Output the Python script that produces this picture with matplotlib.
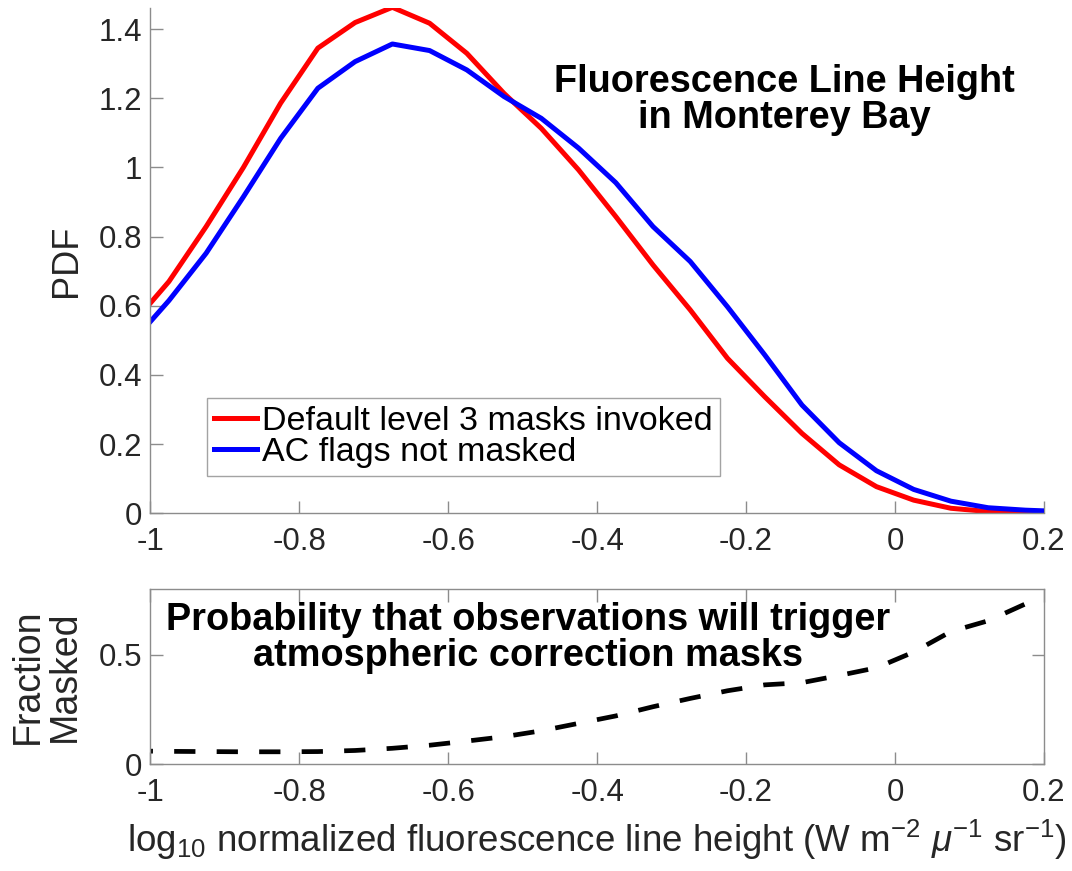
import numpy as np
import matplotlib
matplotlib.use("Agg")
import matplotlib.pyplot as plt

plt.rcParams['font.family'] = ['Liberation Sans', 'DejaVu Sans']
plt.rcParams['mathtext.fontset'] = 'custom'
plt.rcParams['mathtext.rm'] = 'Liberation Sans'
plt.rcParams['mathtext.it'] = 'Liberation Sans:italic'
plt.rcParams['axes.unicode_minus'] = False

# bin centres of log10 nFLH (last/first lie outside the axes and get clipped)
flh = [-1.025, -0.975, -0.925, -0.875, -0.825, -0.775, -0.725, -0.675, -0.625,
       -0.575, -0.525, -0.475, -0.425, -0.375, -0.325, -0.275, -0.225, -0.175,
       -0.125, -0.075, -0.025, 0.025, 0.075, 0.125, 0.175, 0.225]

pdf_masked = [0.545, 0.670, 0.829, 1.000, 1.186, 1.345, 1.419, 1.463, 1.417,
              1.330, 1.214, 1.113, 0.993, 0.858, 0.718, 0.588, 0.448, 0.337,
              0.231, 0.140, 0.077, 0.038, 0.0145, 0.005, 0.0015, 0.0005]

pdf_noflag = [0.493, 0.615, 0.752, 0.915, 1.084, 1.229, 1.306, 1.357, 1.338,
              1.282, 1.205, 1.142, 1.056, 0.956, 0.829, 0.728, 0.597, 0.458,
              0.313, 0.204, 0.123, 0.069, 0.035, 0.016, 0.009, 0.005]

frac_masked = [0.060, 0.058, 0.057, 0.056, 0.056, 0.057, 0.062, 0.072, 0.086,
               0.105, 0.125, 0.152, 0.186, 0.220, 0.262, 0.300, 0.335, 0.362,
               0.372, 0.405, 0.440, 0.512, 0.606, 0.655, 0.732, 0.770]

xticks = [-1, -0.8, -0.6, -0.4, -0.2, 0, 0.2]
xticklabels = ["-1", "-0.8", "-0.6", "-0.4", "-0.2", "0", "0.2"]
yticks_pdf = [0, 0.2, 0.4, 0.6, 0.8, 1, 1.2, 1.4]
yticklabels_pdf = ["0", "0.2", "0.4", "0.6", "0.8", "1", "1.2", "1.4"]
yticks_frac = [0, 0.5]
yticklabels_frac = ["0", "0.5"]

spine_col = "#8c8c8c"
txt_col = "#262626"

fig = plt.figure(figsize=(10.72, 8.71), dpi=100)
ax1 = fig.add_axes([0.1402, 0.4107, 0.8337, 0.5801])
ax2 = fig.add_axes([0.1402, 0.1228, 0.8337, 0.2009])

ax1.plot(flh, pdf_masked, color="#ff0000", lw=3.6, label="Default level 3 masks invoked")
ax1.plot(flh, pdf_noflag, color="#0000ff", lw=3.6, label="AC flags not masked")
ax1.set_xlim(-1, 0.2)
ax1.set_ylim(0, 1.461)
ax1.set_xticks(xticks)
ax1.set_xticklabels(xticklabels)
ax1.set_yticks(yticks_pdf)
ax1.set_yticklabels(yticklabels_pdf)
ax1.spines['top'].set_visible(False)
ax1.spines['right'].set_visible(False)
ax1.set_ylabel("PDF", fontsize=26, color=txt_col, labelpad=10)

ax1.text(0.71, 0.818, "Fluorescence Line Height\nin Monterey Bay", transform=ax1.transAxes,
         ha="center", va="center", fontsize=27.3, fontweight="bold", linespacing=1.0)

leg = ax1.legend(loc="lower left", bbox_to_anchor=(0.063, 0.074), fontsize=24.5,
                 frameon=True, fancybox=False, handlelength=1.25, handletextpad=0.15,
                 borderpad=0.22, labelspacing=0.02, borderaxespad=0)
leg.get_frame().set_edgecolor(spine_col)
leg.get_frame().set_linewidth(1.0)

ax2.plot(flh, frac_masked, color="black", lw=3.4, linestyle=(0, (4.5, 4.5)))
ax2.set_xlim(-1, 0.2)
ax2.set_ylim(0, 0.8)
ax2.set_xticks(xticks)
ax2.set_xticklabels(xticklabels)
ax2.set_yticks(yticks_frac)
ax2.set_yticklabels(yticklabels_frac)
ax2.tick_params(top=True, right=True)
ax2.set_ylabel("Fraction\nMasked", fontsize=27, color=txt_col, labelpad=11, linespacing=1.05)
ax2.set_xlabel("log$_{10}$ normalized fluorescence line height (W m$^{-2}$ $\\mu^{-1}$ sr$^{-1}$)",
               fontsize=26.5, color=txt_col, labelpad=7)

ax2.text(0.4226, 0.72, "Probability that observations will trigger\natmospheric correction masks",
         transform=ax2.transAxes, ha="center", va="center", fontsize=27.3,
         fontweight="bold", linespacing=1.0)

for ax in (ax1, ax2):
    for sp in ax.spines.values():
        sp.set_color(spine_col)
        sp.set_linewidth(1.0)
    ax.tick_params(direction="in", length=9, width=1.0, color=spine_col,
                   labelsize=22.5, labelcolor=txt_col)
    ax.tick_params(axis="x", pad=10)
    ax.tick_params(axis="y", pad=6)

fig.savefig("out.png", dpi=100)
